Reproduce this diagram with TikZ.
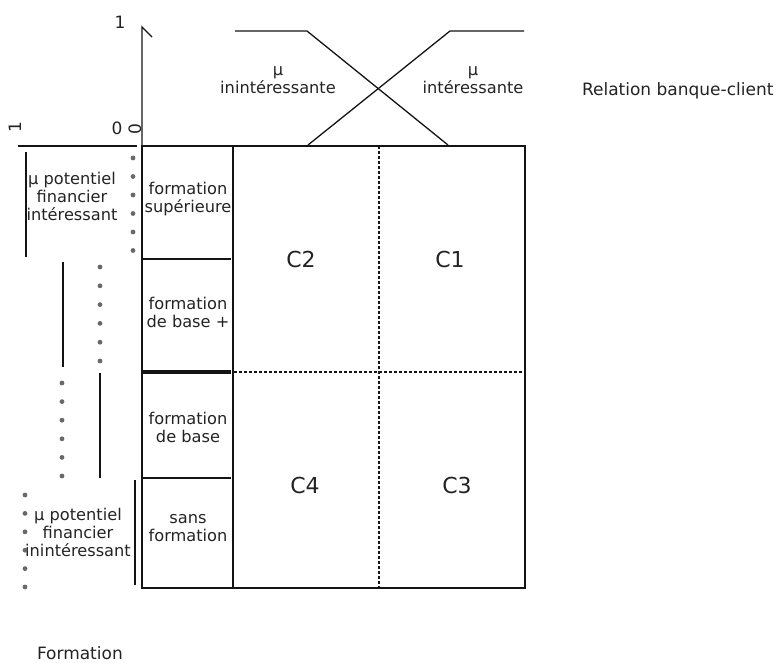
\documentclass[tikz,border=0pt]{standalone}
\usepackage{fontspec}
\setmainfont{DejaVu Sans}
\definecolor{ink}{RGB}{20,20,20}
\definecolor{txt}{RGB}{35,35,35}
\definecolor{dotc}{RGB}{105,105,105}
\begin{document}
\begin{tikzpicture}[x=1pt,y=-1pt,
  every node/.style={inner sep=0pt,outer sep=0pt,text=txt},
  lbl/.style={align=center,font=\fontsize{16.2}{18}\selectfont},
  big/.style={font=\fontsize{17}{18}\selectfont},
  cls/.style={font=\fontsize{22}{24}\selectfont},
  edge/.style={draw=ink,line width=1.3pt},
  thickedge/.style={draw=ink,line width=4pt},
  dashline/.style={draw=ink,line width=1.2pt,dash pattern=on 3pt off 2pt},
  bar/.style={draw=ink,line width=1.3pt},
  dotmark/.style={fill=dotc,draw=none}]
\useasboundingbox (0,0) rectangle (779,662);

% grid corners
\coordinate (tl) at (142,146);
\coordinate (tr) at (525,146);
\coordinate (bl) at (142,588);
\coordinate (br) at (525,588);
\coordinate (ct) at (233,146);
\coordinate (cb) at (233,588);
\coordinate (dt) at (379,146);
\coordinate (db) at (379,588);

% outer frame and column divider
\draw[edge] (tl) -- (tr) -- (br) -- (bl) -- cycle;
\draw[edge] (ct) -- (cb);
\draw[dashline] (dt) -- (db);

% rows of the education column
\draw[edge] (142,259) -- (231,259);
\draw[thickedge] (142,372) -- (231,372);
\draw[edge] (142,478) -- (231,478);
\draw[dashline] (234,372) -- (525,372);

% vertical axis of the relation memberships
\coordinate (ax0) at (142,146);
\coordinate (ax1) at (142,27);
\draw[edge] (ax0) -- (ax1) -- (152,37);
\node[big] (one) at (120,22) {1};
\node[big] (zero) at (117,128) {0};
\node[big,rotate=90] (zerorot) at (135,129) {0};

% horizontal axis of the education memberships
\draw[edge] (18,146) -- (137,146);
\node[big,rotate=90] (onerot) at (15,127) {1};

% membership curves for the relation
\draw[edge] (235,31) -- (307,31) -- (448,145);
\draw[edge] (308,145) -- (450,31) -- (524,31);
\node[lbl] (muinint) at (278,80) {µ\\inintéressante};
\node[lbl] (muint) at (473,80) {µ\\intéressante};
\node[big,anchor=west] (rel) at (582,91) {Relation banque-client};

% education column labels
\node[lbl] (fsup) at (188,199) {formation\\supérieure};
\node[lbl] (fbp) at (188,312) {formation\\de base +};
\node[lbl] (fb) at (188,427) {formation\\de base};
\node[lbl] (sf) at (188,528) {sans\\formation};

% classes
\node[cls] (c2) at (301,259) {C2};
\node[cls] (c1) at (450,259) {C1};
\node[cls] (c4) at (305,485) {C4};
\node[cls] (c3) at (457,485) {C3};

% memberships of the financial potential
\node[lbl] (potint) at (72,196) {µ potentiel\\financier\\intéressant};
\node[lbl] (potinint) at (78,532) {µ potentiel\\financier\\inintéressant};

\draw[bar] (26,152) -- (26,257);
\draw[bar] (63,262) -- (63,367);
\draw[bar] (100,373) -- (100,478);
\draw[bar] (135,480) -- (135,585);

\foreach \i in {0,...,5}{
  \fill[dotmark] (133,158+18.5*\i) circle[radius=2.4pt];
  \fill[dotmark] (100,267+18.8*\i) circle[radius=2.4pt];
  \fill[dotmark] (62,383+18.6*\i) circle[radius=2.4pt];
  \fill[dotmark] (25,495+18.4*\i) circle[radius=2.4pt];
}

\node[big,anchor=west] (form) at (37,653) {Formation};
\end{tikzpicture}
\end{document}
